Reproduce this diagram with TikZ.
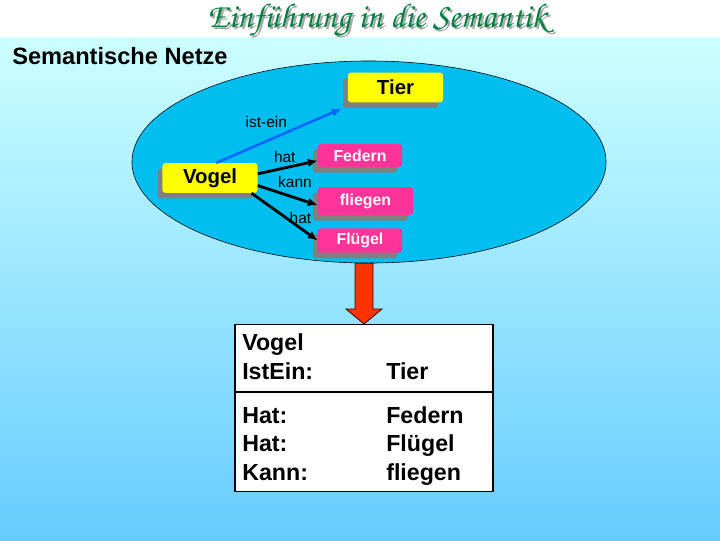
\documentclass[tikz,border=0pt]{standalone}
\usepackage[T1]{fontenc}
\usepackage{fontspec}
\setmainfont{Liberation Sans}
\usepackage{tikz}
\usetikzlibrary{
    shapes.geometric, arrows.meta, positioning,
    shadows, calc
}
\definecolor{bgtop}{RGB}{204,255,255}
\definecolor{bgbottom}{RGB}{102,204,255}
\definecolor{netblue}{RGB}{0,190,240}
\definecolor{conceptyellow}{RGB}{255,255,0}
\definecolor{proppink}{RGB}{255,51,153}
\definecolor{isablue}{RGB}{0,102,255}
\definecolor{titlegreen}{RGB}{0,128,64}
\definecolor{bigred}{RGB}{255,51,0}
\tikzset{
  concept/.style={rectangle, rounded corners=2pt, fill=conceptyellow,
                  minimum width=2.375cm, minimum height=0.74cm,
                  font=\fontsize{14.5}{16}\selectfont\bfseries,
                  drop shadow={shadow xshift=-3.5pt, shadow yshift=-4pt,
                               fill=black!50, opacity=1}},
  prop/.style={concept, fill=proppink, text=white,
               minimum width=2.1cm, minimum height=0.575cm,
               font=\fontsize{11.3}{13}\selectfont\bfseries},
  rel/.style={-{Latex[length=7pt,width=6pt]}, line width=2pt},
  isa/.style={rel, draw=isablue, line width=1.8pt},
  lbl/.style={font=\fontsize{11}{12}\selectfont, inner sep=1pt},
  heading/.style={font=\fontsize{16.8}{20}\selectfont\bfseries,
                  inner sep=0pt, anchor=base west},
  slidetitle/.style={anchor=base,
                     font=\fontencoding{T1}\fontfamily{pzc}\fontseries{mb}\fontshape{it}\fontsize{24.5}{26}\selectfont},
  cell/.style={rectangle, draw, fill=white, line width=0.8pt,
               minimum width=6.45cm, inner sep=0pt},
  rowtxt/.style={font=\fontsize{16.5}{20}\selectfont\bfseries,
                 inner sep=0pt, anchor=base west},
  fatarrow/.style={fill=bigred, draw=black!70!red, line width=0.6pt},
}

\begin{document}
\begin{tikzpicture}[x=0.025cm, y=-0.025cm]
  \useasboundingbox (0,0) rectangle (720,540);
  % slide background
  \fill[white] (0,0) rectangle (720,37);
  \shade[top color=bgtop, bottom color=bgbottom] (0,37) rectangle (720,540);

  % title
  \node[slidetitle, text=black!35] (titleshadow) at (379,29) {Einf\"uhrung in die Semantik};
  \node[slidetitle, text=titlegreen] (title) at (377,27) {Einf\"uhrung in die Semantik};
  \node[heading] (heading) at (12,64) {Semantische Netze};

  % the net
  \node[ellipse, draw, fill=netblue, inner sep=0pt,
        minimum width=11.85cm, minimum height=5.05cm] (net) at (369,162) {};

  \node[concept] (tier)  at (395.5,87.5) {Tier};
  \node[concept] (vogel) at (210,178)    {Vogel};
  \node[prop] (federn)  at (360,155.5) {Federn};
  \node[prop, minimum width=2.375cm, minimum height=0.7cm]
              (fliegen) at (365.5,201) {fliegen};
  \node[prop] (fluegel) at (360,240.5) {Flügel};

  \draw[isa] (vogel.68) -- ([shift={(-6,6)}]tier.south west)
    node[lbl, pos=0.4, above=7.5pt] {ist-ein};
  \draw[rel] (vogel.5) -- (federn.187)
    node[lbl, pos=0.45, above=1.7pt] {hat};
  \draw[rel] (vogel.-9) -- (fliegen.185)
    node[lbl, pos=0.62, above=5.2pt] {kann};
  \draw[rel] (vogel.-20) -- (fluegel.west)
    node[lbl, pos=0.74, above=1pt] {hat};

  % frame
  \node[cell, anchor=north, minimum height=1.675cm] (head) at (364,324) {};
  \node[cell, below=0pt of head, minimum height=2.475cm] (body) {};

  \coordinate (atip) at (head.north);
  \coordinate (atop) at (atip |- net.south);
  \draw[fatarrow] ($(atop)+(-9,0)$) -- ($(atip)+(-9,-15)$)
    -- ($(atip)+(-18,-15)$) -- (atip) -- ($(atip)+(18,-15)$)
    -- ($(atip)+(9,-15)$) -- ($(atop)+(9,0)$) -- cycle;

  \node[rowtxt] (hname) at (242,350) {Vogel};
  \node[rowtxt] (hkey)  at (242,379) {IstEin:};
  \node[rowtxt] (hval)  at (386,379) {Tier};
  \foreach \k/\v/\y in {Hat:/Federn/423, Hat:/Flügel/451, Kann:/fliegen/480}{
    \node[rowtxt] (key\y) at (242,\y) {\k};
    \node[rowtxt] (val\y) at (386,\y) {\v};
  }
\end{tikzpicture}
\end{document}
